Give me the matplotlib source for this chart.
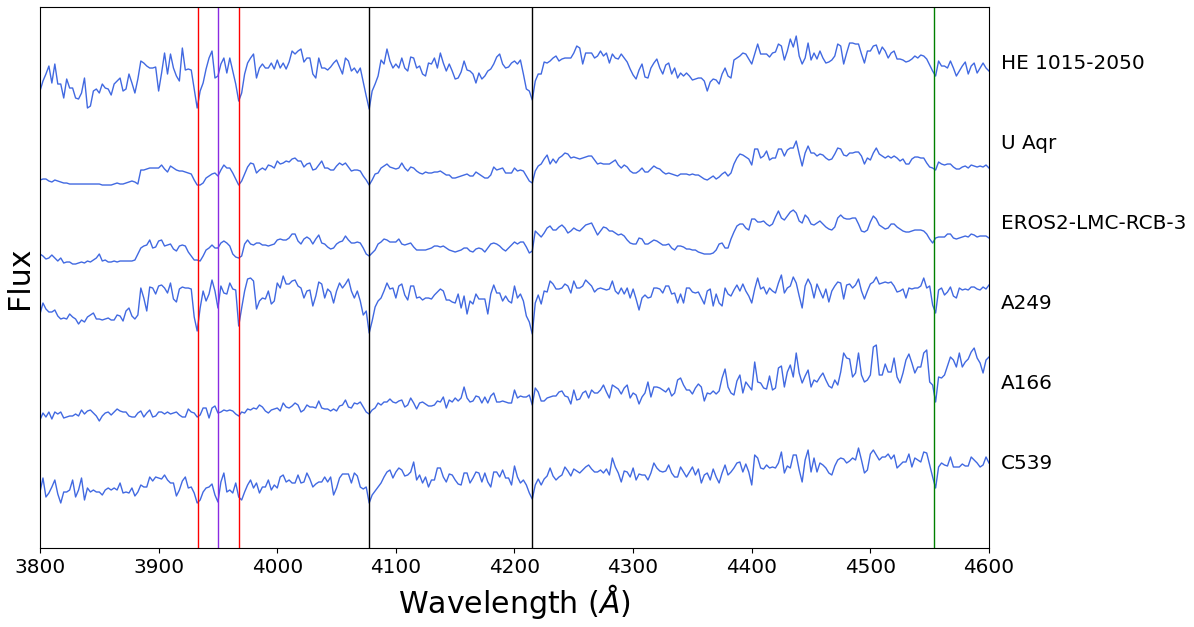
import numpy as np
import matplotlib
matplotlib.use("Agg")
import matplotlib.pyplot as plt

# wavelength grids (Angstrom): main points every 5 A, and the half-step points in between
wave_main = np.arange(3800, 4601, 5.0)
wave_half = np.arange(3802.5, 4600, 5.0)

# relative flux (units of 1/80 of the vertical spacing between spectra)
he1015_main = ([-28,-11,-20,-21,-35,-25,-35,-30,-45,-28,-30,-25,-32,-18,-28,-11,-30,2,-3,-5,-28,10,9,-13,15,-6,-26,-28,-6,12,-13,5,5,-21,-30,0,9,-5,-5,0,3]
               + [0,1,9,14,5,-11,5,-5,-4,3,-11,2,-5,-5,-33,-28,-13,-1,2,-1,5,-8,5,-3,-13,-1,-5,0,-1,-16,-9,-7,-11,-10,-13,-6,6,-1,-4,2]
               + [3,-26,-37,-11,1,2,7,4,5,10,15,10,10,7,7,0,5,9,1,-12,-7,-14,-5,4,-11,0,-5,-10,-10,-17,-15,-18,-19,-17,-11,-13,3,7,9,-1]
               + [19,9,6,11,17,12,16,7,5,3,4,5,1,7,17,10,20,19,0,12,18,16,5,12,4,1,4,5,7,-2,-13,-3,-5,-5,-8,1,-3,-10,0,-8])
he1015_half = ([-18,-3,-1,-21,-16,-25,-36,-15,-43,-26,-21,-26,-21,-15,-26,-20,-16,0,-5,-4,-10,-11,-5,-18,-7,-7,-45,-20,5,-15,-1,-10,-8,-38,-11,5,-15,-1,-5,-6]
               + [-5,-6,12,12,1,5,-15,-5,-7,0,-4,5,-8,-10,-19,-46,-21,3,14,-5,-5,-5,6,-5,-11,0,5,10,-8,-8,-15,2,-8,-20,-16,-8,-1,9,-5,0]
               + [-1,-11,-28,-18,-11,0,5,2,5,5,17,-1,10,5,12,10,9,4,5,-6,-16,-1,-15,0,-5,-2,-11,-15,-13,-13,-16,-15,-28,-16,-21,-5,-15,5,10,4]
               + [9,9,9,10,19,3,24,27,-1,20,10,12,0,3,19,-1,20,19,9,12,17,9,12,10,4,3,2,7,8,4,-8,2,-3,2,-13,-3,-11,0,-5,-5])

uaqr_main = ([-37,-36,-39,-38,-40,-41,-41,-41,-41,-41,-41,-42,-42,-40,-41,-39,-39,-27,-26,-25,-25,-26,-23,-27,-28,-30,-37,-42,-35,-31,-33,-22,-25,-36,-38,-24,-21,-27,-27,-23,-18]
             + [-20,-19,-15,-18,-21,-27,-22,-25,-27,-23,-22,-24,-27,-28,-37,-37,-30,-23,-24,-26,-20,-28,-25,-30,-29,-30,-29,-30,-32,-35,-33,-31,-33,-31,-35,-32,-27,-25,-30,-25]
             + [-27,-33,-40,-23,-16,-21,-20,-13,-11,-14,-16,-14,-13,-21,-21,-21,-17,-25,-24,-30,-28,-29,-26,-25,-29,-30,-32,-31,-31,-31,-32,-36,-35,-36,-31,-33,-21,-11,-14,-22]
             + [-6,-13,-17,-15,-6,-7,-5,-11,-10,-10,-13,-12,-17,-11,-6,-13,-10,-9,-21,-17,-5,-13,-13,-13,-18,-21,-16,-14,-15,-24,-27,-21,-21,-24,-26,-23,-22,-24,-24,-25])
uaqr_half = ([-36,-38,-37,-39,-40,-41,-41,-41,-41,-41,-42,-42,-41,-41,-40,-38,-41,-27,-25,-25,-22,-29,-25,-28,-29,-31,-42,-40,-33,-30,-27,-25,-30,-42,-31,-20,-30,-25,-22,-25]
             + [-21,-18,-16,-18,-24,-20,-26,-18,-25,-27,-20,-20,-28,-27,-33,-42,-31,-25,-21,-25,-25,-25,-24,-28,-31,-30,-29,-28,-32,-35,-34,-32,-33,-29,-33,-35,-24,-26,-30,-30]
             + [-28,-28,-38,-28,-21,-12,-16,-15,-10,-15,-15,-15,-13,-17,-20,-21,-19,-22,-22,-28,-30,-25,-29,-23,-26,-31,-31,-33,-31,-32,-32,-34,-37,-33,-34,-29,-30,-15,-12,-16]
             + [-6,-15,-8,-15,-6,-13,-5,2,-23,-3,-10,-11,-15,-16,-5,-12,-10,-9,-13,-15,-10,-11,-15,-15,-15,-16,-21,-14,-15,-20,-25,-19,-22,-21,-26,-24,-25,-23,-23,-22])

eros_main = ([-31,-36,-32,-38,-40,-39,-41,-39,-38,-37,-31,-37,-39,-39,-38,-38,-37,-25,-22,-25,-18,-23,-21,-28,-22,-29,-37,-38,-27,-22,-25,-18,-23,-34,-33,-17,-22,-20,-22,-22,-17]
             + [-17,-15,-11,-21,-14,-21,-12,-21,-26,-21,-18,-17,-20,-20,-31,-30,-21,-16,-19,-19,-21,-21,-24,-27,-27,-25,-23,-23,-27,-29,-27,-25,-29,-25,-29,-21,-21,-26,-25,-19]
             + [-19,-24,-28,-11,-10,-3,-7,-2,-10,-5,-8,-2,0,-12,-4,-8,-10,-11,-17,-21,-15,-21,-19,-18,-22,-21,-27,-23,-26,-27,-29,-31,-31,-27,-20,-25,-9,-1,-5,4]
             + [1,2,-3,6,5,7,13,2,8,-1,0,-1,-6,-4,8,4,5,-1,-9,1,4,-4,-5,-1,-6,-9,-8,-7,-8,-16,-15,-14,-11,-15,-15,-13,-11,-14,-13,-15])
eros_half = ([-33,-35,-35,-35,-39,-41,-40,-40,-39,-35,-38,-39,-38,-38,-38,-38,-31,-23,-17,-24,-17,-22,-26,-23,-23,-33,-37,-33,-25,-25,-20,-20,-31,-35,-21,-21,-20,-22,-23,-21]
             + [-16,-17,-11,-18,-16,-16,-16,-20,-24,-25,-19,-13,-20,-19,-25,-33,-27,-19,-17,-19,-16,-22,-20,-27,-27,-26,-23,-24,-25,-28,-28,-25,-28,-26,-26,-25,-20,-23,-28,-22]
             + [-21,-19,-30,-8,-14,-5,-7,-4,-5,-8,-7,-5,-1,-6,-8,-5,-8,-12,-13,-20,-21,-16,-21,-17,-20,-22,-25,-23,-24,-26,-27,-30,-31,-30,-21,-25,-16,-3,-1,-7]
             + [4,1,-1,-1,12,3,11,10,0,5,-2,2,-4,-7,5,5,4,5,-8,-7,7,-2,-6,-1,-4,-8,-9,-7,-7,-11,-20,-14,-14,-11,-16,-14,-14,-12,-13,-13])

a249_main = ([-11,-6,-9,-13,-15,-11,-16,-17,-14,-10,-16,-16,-17,-12,-18,-5,-16,15,-8,15,17,15,20,1,16,15,-14,-5,2,23,-5,10,20,13,-5,24,22,2,4,-1,20]
             + [27,19,23,15,12,-3,21,5,11,12,15,24,5,2,-8,-18,2,12,14,5,19,3,17,6,5,4,11,12,3,0,-5,-11,-1,4,4,9,10,2,2,17]
             + [9,-13,-31,8,12,22,14,15,17,22,15,23,17,14,14,14,12,15,15,14,-7,8,6,15,10,17,10,9,15,11,11,-1,14,9,-3,9,13,12,12,0]
             + [25,16,15,10,28,15,26,7,17,18,19,5,1,17,20,18,15,24,4,19,26,20,20,17,12,5,14,15,25,17,-10,15,11,7,15,14,16,14,16,18])
a249_half = ([0,-9,-7,-16,-16,-14,-21,-19,-12,-16,-17,-15,-17,-13,-8,-13,-12,5,16,9,18,10,4,14,15,14,-28,12,9,12,17,9,14,-23,12,25,-6,5,12,2]
             + [15,19,22,17,5,13,7,19,14,0,20,19,12,12,-12,-30,-4,5,20,15,17,8,17,5,3,5,8,14,3,1,9,7,2,9,4,-11,18,10,7,0]
             + [5,2,-19,0,-1,11,19,14,19,10,15,17,20,11,15,13,22,9,9,5,4,5,5,15,14,17,9,0,0,15,10,5,12,-3,0,15,7,18,19,7]
             + [14,14,9,12,20,10,17,20,-5,24,5,12,14,12,21,4,19,18,12,12,21,19,21,21,11,14,15,15,17,15,-2,13,8,16,5,13,13,16,13,14])

a166_main = ([-37,-34,-36,-31,-35,-33,-31,-27,-28,-30,-38,-30,-32,-26,-29,-33,-34,-28,-30,-34,-29,-31,-31,-29,-34,-26,-30,-32,-25,-25,-30,-27,-27,-31,-29,-26,-25,-22,-28,-27,-25]
             + [-20,-25,-20,-29,-22,-24,-18,-26,-28,-28,-22,-24,-20,-19,-29,-27,-20,-19,-16,-20,-17,-22,-20,-20,-21,-23,-18,-14,-17,-15,-15,-15,-18,-14,-14,-13,-19,-18,-20,-7]
             + [-13,-14,-22,-9,-18,-14,-13,-8,-14,-7,-16,-8,-7,-10,-2,-15,-4,-11,-2,-10,-21,-10,-14,-4,-7,-5,-10,5,-7,-11,-1,-18,-11,-11,5,-4,-12,8,1,-7]
             + [1,-5,7,-5,17,11,6,10,7,-4,1,10,-3,3,11,25,6,30,1,8,38,8,11,25,0,23,20,16,30,1,-19,5,17,23,30,21,31,25,10,26])
a166_half = ([-30,-29,-29,-29,-34,-33,-33,-31,-27,-33,-33,-29,-29,-28,-29,-34,-30,-34,-27,-33,-29,-29,-30,-32,-34,-29,-34,-25,-35,-23,-29,-28,-28,-33,-30,-27,-26,-24,-30,-26]
             + [-28,-24,-23,-22,-27,-24,-25,-25,-26,-26,-23,-17,-25,-21,-24,-31,-25,-22,-19,-19,-18,-24,-15,-26,-19,-23,-22,-19,-25,-19,-18,-4,-19,-13,-20,-20,-10,-19,-19,-20]
             + [-15,-14,-12,-5,-18,-15,-13,-9,-13,-21,-17,-10,-15,-10,-7,-9,-2,-6,-5,-15,-12,-14,1,-4,-5,-9,-13,3,-2,-7,-5,-4,-10,-8,-8,14,-10,2,-10,-3]
             + [21,0,-6,-7,15,-4,18,30,0,13,3,6,3,-5,-2,30,24,10,8,3,36,8,19,11,6,10,29,10,16,33,-2,6,8,26,16,16,24,35,20,23])

c539_main = ([-29,-34,-24,-31,-29,-27,-34,-15,-25,-27,-29,-27,-27,-27,-30,-30,-33,-22,-24,-18,-15,-12,-20,-33,-18,-25,-30,-37,-25,-21,-39,-10,-27,-20,-37,-22,-25,-30,-24,-27,-25]
             + [-12,-17,-20,-20,-10,-24,-19,-14,-14,-25,-11,-11,-10,-24,-24,-32,-24,-14,-7,-9,-7,-12,1,-12,-14,-17,-5,-14,-11,-17,-22,-10,-15,-10,-10,-24,-9,-7,-15,-3]
             + [-20,-22,-36,-16,-16,-5,-17,-12,-8,-6,-10,-4,-6,-9,-10,-12,-4,-19,-9,-5,-11,-12,-10,-5,-9,-2,-14,-4,-14,-4,-6,-12,-17,-14,-10,-12,-5,1,-1,-22]
             + [5,-6,-5,-5,11,-3,8,-7,3,-9,-9,-2,-10,-3,5,0,5,15,-10,9,8,6,9,8,-2,1,-4,3,11,-2,-25,0,-3,-4,-4,-3,6,0,-2,0])
c539_half = ([-15,-30,-17,-40,-29,-17,-27,-37,-29,-29,-32,-25,-25,-20,-29,-25,-29,-24,-14,-14,-16,-17,-20,-27,-14,-24,-40,-29,-24,-32,-19,-29,-30,-34,-29,-17,-20,-24,-17,-22]
             + [-14,-19,-20,-12,-19,-16,-21,-19,-19,-32,-15,-11,-20,-13,-26,-40,-28,-20,-9,-15,-5,-13,-9,-17,-20,-24,-17,-5,-19,-12,-21,-10,-20,-9,-19,-19,-9,-14,-15,-22]
             + [-14,-17,-30,-22,-22,-13,-13,-14,-4,-13,-8,-7,-2,-9,-7,-6,5,-10,-8,-14,-17,-12,-17,0,-8,-8,-10,-14,-9,-9,-12,-20,-10,-6,-20,-2,-9,0,-9,-9]
             + [8,-5,-2,-4,0,-10,-5,8,-19,13,5,0,-5,-12,3,4,2,3,3,-7,13,3,6,4,-5,1,9,5,1,10,-14,-4,-2,6,-4,-1,-3,3,-4,6])

star_names = ["HE 1015-2050", "U Aqr", "EROS2-LMC-RCB-3", "A249", "A166", "C539"]
star_main = [he1015_main, uaqr_main, eros_main, a249_main, a166_main, c539_main]
star_half = [he1015_half, uaqr_half, eros_half, a249_half, a166_half, c539_half]
offsets = [5, 4, 3, 2, 1, 0]

# marked spectral lines (Angstrom)
line_waves = [3933, 3950, 3968, 4077, 4215, 4554]
line_colors = ["red", "blueviolet", "red", "black", "black", "green"]

wave_all = np.concatenate([wave_main, wave_half])
order = np.argsort(wave_all)
wave_all = wave_all[order]

fig = plt.figure(figsize=(11.94, 6.27), dpi=100)
ax = fig.add_axes([0.0335, 0.126, 0.7948, 0.8628])

for name, fm, fh, off in zip(star_names, star_main, star_half, offsets):
    flux = np.concatenate([np.array(fm, float), np.array(fh, float)])[order]
    ax.plot(wave_all, flux / 80.0 + off, color="royalblue", lw=1.0)
    ax.text(4610, off, name, fontsize=14.4, va="center", ha="left", clip_on=False)

for wl, c in zip(line_waves, line_colors):
    ax.axvline(wl, color=c, lw=1.0)

ax.set_xlim(3800, 4600)
ax.set_ylim(-1.0625, 5.7)
ax.set_xticks(np.arange(3800, 4601, 100))
ax.tick_params(axis="x", labelsize=14.4)
ax.set_yticks([])
ax.set_xlabel(r"Wavelength ($\AA$)", fontsize=21.6)
ax.set_ylabel("Flux", fontsize=21.6, labelpad=4)

fig.savefig("out.png", dpi=100)
